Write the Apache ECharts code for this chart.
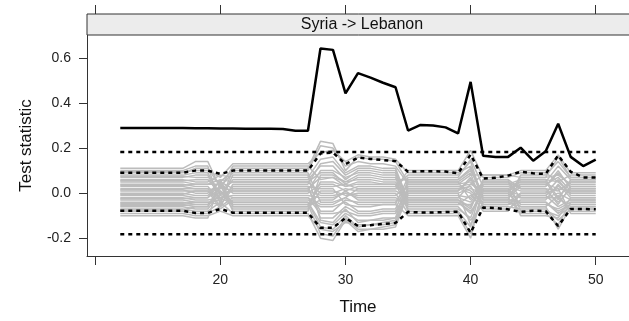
<!DOCTYPE html>
<html>
<head>
<meta charset="utf-8">
<script src="https://cdn.jsdelivr.net/npm/echarts@6/dist/echarts.min.js"></script>
<style>
html, body { margin: 0; padding: 0; background: #fff; }
#chart { width: 629px; height: 321px; }
</style>
</head>
<body>
<div id="chart"></div>
<script>
var stripTitle = 'Syria -> Lebanon';
var years = [12,13,14,15,16,17,18,19,20,21,22,23,24,25,26,27,28,29,30,31,32,33,34,35,36,37,38,39,40,41,42,43,44,45,46,47,48,49,50];
// observed statistic
var observed = [.289,.289,.289,.289,.289,.289,.288,.288,.287,.287,.286,.286,.286,.285,.277,.277,.642,.636,.443,.533,.513,.49,.47,.278,.303,.30,.292,.265,.494,.166,.160,.161,.202,.144,.186,.308,.161,.120,.149];
// pointwise envelope
var envUpper = [.091,.091,.091,.091,.091,.091,.10,.10,.085,.10,.10,.10,.10,.10,.10,.10,.176,.18,.129,.158,.152,.147,.142,.095,.097,.097,.096,.088,.171,.065,.068,.078,.095,.088,.085,.168,.095,.07,.069];
var envLower = [-.078,-.078,-.078,-.078,-.078,-.078,-.088,-.088,-.07,-.087,-.087,-.087,-.087,-.087,-.087,-.087,-.154,-.154,-.11,-.146,-.142,-.137,-.132,-.083,-.086,-.086,-.084,-.082,-.176,-.064,-.066,-.072,-.083,-.078,-.08,-.146,-.07,-.07,-.072];
// global critical value
var critYears = [12, 50];
var critLevel = 0.183;
// permutation curves
var permLines = [
  [.11,.11,.11,.11,.11,.11,.14,.14,.02,.12,.12,.12,.12,.12,.12,.12,.06,.07,.03,.05,.05,.04,.04,-.02,-.02,-.02,-.02,-.02,.04,.01,.01,.01,-.01,-.01,-.01,.03,0,0,0],
  [.10,.10,.10,.10,.10,.10,.12,.12,-.05,.11,.11,.11,.11,.11,.11,.11,.23,.22,.10,.16,.15,.15,.14,.05,.05,.05,.05,.05,-.03,.04,.04,.04,.06,.06,.06,-.02,.05,.05,.05],
  [.095,.095,.095,.095,.095,.095,.10,.10,.07,.13,.13,.13,.13,.13,.13,.13,.18,.19,.14,.17,.16,.16,.15,.09,.09,.09,.09,.09,.12,-.02,-.02,-.02,.03,.03,.03,.10,.02,.02,.02],
  [.09,.09,.09,.09,.09,.09,.11,.11,.03,.09,.09,.09,.09,.09,.09,.09,-.04,-.04,-.02,.02,.02,.02,.02,.10,.10,.10,.10,.10,.19,.07,.07,.07,.09,.09,.09,.05,.08,.08,.08],
  [.08,.08,.08,.08,.08,.08,.09,.09,-.01,.06,.06,.06,.06,.06,.06,.06,.12,.12,.06,.10,.10,.09,.09,-.06,-.06,-.06,-.06,-.06,-.12,-.05,-.05,-.05,-.04,-.04,-.04,-.09,-.05,-.05,-.05],
  [.075,.075,.075,.075,.075,.075,.07,.07,.05,.10,.10,.10,.10,.10,.10,.10,.21,.20,.12,.14,.13,.13,.12,.04,.04,.04,.04,.04,.08,.08,.08,.08,.10,.10,.10,.17,.09,.09,.09],
  [.07,.07,.07,.07,.07,.07,.08,.08,-.03,.03,.03,.03,.03,.03,.03,.03,.02,.02,-.05,-.06,-.06,-.05,-.05,.07,.07,.07,.07,.07,.15,.03,.03,.03,.05,.05,.05,.12,.06,.06,.06],
  [.06,.06,.06,.06,.06,.06,.05,.05,.08,.07,.07,.07,.07,.07,.07,.07,.15,.16,.09,.12,.12,.11,.11,-.03,-.03,-.03,-.03,-.03,-.07,.06,.06,.06,.02,.02,.02,-.05,.03,.03,.03],
  [.055,.055,.055,.055,.055,.055,.06,.06,0,-.02,-.02,-.02,-.02,-.02,-.02,-.02,-.09,-.09,-.08,-.10,-.10,-.09,-.09,.02,.02,.02,.02,.02,.03,-.06,-.06,-.06,-.07,-.07,-.07,-.12,-.07,-.07,-.07],
  [.05,.05,.05,.05,.05,.05,.04,.04,.06,.05,.05,.05,.05,.05,.05,.05,.09,.09,.04,.07,.07,.06,.06,.06,.06,.06,.06,.06,.10,0,0,0,.07,.07,.07,.08,.04,.04,.04],
  [.04,.04,.04,.04,.04,.04,.03,.03,-.04,.08,.08,.08,.08,.08,.08,.08,-.12,-.13,-.07,-.13,-.12,-.12,-.11,-.01,-.01,-.01,-.01,-.01,-.02,.05,.05,.05,-.02,-.02,-.02,0,-.03,-.03,-.03],
  [.035,.035,.035,.035,.035,.035,.04,.04,.04,0,0,0,0,0,0,0,.04,.04,.01,.03,.03,.03,.03,.08,.08,.08,.08,.08,.14,-.03,-.03,-.03,.08,.08,.08,.14,.07,.07,.07],
  [.03,.03,.03,.03,.03,.03,.02,.02,-.06,.04,.04,.04,.04,.04,.04,.04,.13,.14,.08,.11,.11,.10,.10,-.04,-.04,-.04,-.04,-.04,-.09,.02,.02,.02,-.05,-.05,-.05,-.07,-.04,-.04,-.04],
  [.02,.02,.02,.02,.02,.02,.02,.02,.01,-.04,-.04,-.04,-.04,-.04,-.04,-.04,-.15,-.16,-.10,-.15,-.14,-.14,-.13,.01,.01,.01,.01,.01,.06,-.01,-.01,-.01,.04,.04,.04,.02,.01,.01,.01],
  [.015,.015,.015,.015,.015,.015,0,0,.05,.02,.02,.02,.02,.02,.02,.02,.07,.07,.05,.08,.08,.07,.07,-.08,-.08,-.08,-.08,-.08,-.15,.06,.06,.06,-.08,-.08,-.08,-.10,-.06,-.06,-.06],
  [.01,.01,.01,.01,.01,.01,.01,.01,-.02,-.01,-.01,-.01,-.01,-.01,-.01,-.01,-.02,-.02,0,-.01,-.01,-.01,-.01,.03,.03,.03,.03,.03,.01,-.04,-.04,-.04,0,0,0,.06,-.01,-.01,-.01],
  [0,0,0,0,0,0,-.01,-.01,.03,.01,.01,.01,.01,.01,.01,.01,.10,.10,.07,.09,.09,.08,.08,-.05,-.05,-.05,-.05,-.05,-.05,.01,.01,.01,.05,.05,.05,-.03,.06,.06,.06],
  [-.005,-.005,-.005,-.005,-.005,-.005,.01,.01,-.07,-.03,-.03,-.03,-.03,-.03,-.03,-.03,-.06,-.06,-.04,-.08,-.08,-.07,-.07,.05,.05,.05,.05,.05,.09,-.07,-.07,-.07,-.03,-.03,-.03,.04,-.02,-.02,-.02],
  [-.01,-.01,-.01,-.01,-.01,-.01,-.02,-.02,.02,.05,.05,.05,.05,.05,.05,.05,0,0,.02,.01,.01,.01,.01,-.02,-.02,-.02,-.02,-.02,-.04,.03,.03,.03,.01,.01,.01,-.04,.02,.02,.02],
  [-.02,-.02,-.02,-.02,-.02,-.02,-.03,-.03,-.02,-.05,-.05,-.05,-.05,-.05,-.05,-.05,-.18,-.19,-.11,-.16,-.16,-.15,-.14,0,0,0,0,0,.02,0,0,0,-.06,-.06,-.06,-.01,-.08,-.08,-.08],
  [-.025,-.025,-.025,-.025,-.025,-.025,-.02,-.02,.06,-.06,-.06,-.06,-.06,-.06,-.06,-.06,.05,.05,.03,.04,.04,.04,.04,-.07,-.07,-.07,-.07,-.07,-.11,.04,.04,.04,.03,.03,.03,.09,.03,.03,.03],
  [-.03,-.03,-.03,-.03,-.03,-.03,-.04,-.04,-.05,.02,.02,.02,.02,.02,.02,.02,-.08,-.08,-.03,-.04,-.04,-.04,-.04,.04,.04,.04,.04,.04,.05,-.02,-.02,-.02,-.09,-.09,-.09,-.14,-.04,-.04,-.04],
  [-.04,-.04,-.04,-.04,-.04,-.04,-.05,-.05,.01,-.07,-.07,-.07,-.07,-.07,-.07,-.07,.01,.01,-.01,0,0,0,0,-.09,-.09,-.09,-.09,-.09,-.18,.02,.02,.02,.04,.04,.04,.07,.01,.01,.01],
  [-.045,-.045,-.045,-.045,-.045,-.045,-.04,-.04,-.03,.03,.03,.03,.03,.03,.03,.03,-.11,-.11,-.06,-.09,-.09,-.08,-.08,.01,.01,.01,.01,.01,.07,-.05,-.05,-.05,-.01,-.01,-.01,-.06,-.03,-.03,-.03],
  [-.05,-.05,-.05,-.05,-.05,-.05,-.06,-.06,.04,-.08,-.08,-.08,-.08,-.08,-.08,-.08,.08,.08,.05,.06,.06,.05,.05,-.03,-.03,-.03,-.03,-.03,-.06,.05,.05,.05,.02,.02,.02,.01,.05,.05,.05],
  [-.055,-.055,-.055,-.055,-.055,-.055,-.05,-.05,-.01,-.04,-.04,-.04,-.04,-.04,-.04,-.04,-.13,-.14,-.09,-.12,-.12,-.11,-.11,.06,.06,.06,.06,.06,.11,-.03,-.03,-.03,-.04,-.04,-.04,-.08,-.05,-.05,-.05],
  [-.06,-.06,-.06,-.06,-.06,-.06,-.07,-.07,0,.01,.01,.01,.01,.01,.01,.01,-.01,-.01,0,-.02,-.02,-.02,-.02,-.05,-.05,-.05,-.05,-.05,-.01,.01,.01,.01,.06,.06,.06,.05,0,0,0],
  [-.07,-.07,-.07,-.07,-.07,-.07,-.08,-.08,-.04,-.09,-.09,-.09,-.09,-.09,-.09,-.09,-.20,-.21,-.12,-.17,-.16,-.16,-.15,0,0,0,0,0,-.14,-.04,-.04,-.04,-.06,-.06,-.06,-.16,-.06,-.06,-.06],
  [-.075,-.075,-.075,-.075,-.075,-.075,-.06,-.06,.03,-.05,-.05,-.05,-.05,-.05,-.05,-.05,.03,.03,.04,.02,.02,.02,.02,.02,.02,.02,.02,.02,0,-.08,-.08,-.08,0,0,0,.02,-.09,-.09,-.09],
  [-.08,-.08,-.08,-.08,-.08,-.08,-.09,-.09,-.06,-.02,-.02,-.02,-.02,-.02,-.02,-.02,-.05,-.05,-.02,-.05,-.05,-.05,-.05,-.10,-.10,-.10,-.10,-.10,-.20,.02,.02,.02,-.10,-.10,-.10,-.11,-.02,-.02,-.02],
  [-.09,-.09,-.09,-.09,-.09,-.09,-.10,-.10,-.08,-.10,-.10,-.10,-.10,-.10,-.10,-.10,-.16,-.17,-.13,-.14,-.14,-.13,-.12,.03,.03,.03,.03,.03,.04,.08,.08,.08,.07,.07,.07,.16,.07,.07,.07],
  [-.10,-.10,-.10,-.10,-.10,-.10,-.11,-.11,.05,-.06,-.06,-.06,-.06,-.06,-.06,-.06,-.03,-.03,.01,-.03,-.03,-.03,-.03,-.04,-.04,-.04,-.04,-.04,-.08,-.01,-.01,-.01,-.02,-.02,-.02,-.02,-.07,-.07,-.07]
];
var xTicks = [10, 20, 30, 40, 50];
var xLabels = [20, 30, 40, 50];
var yTicks = [-0.2, 0, 0.2, 0.4, 0.6];

var myChart = echarts.init(document.getElementById('chart'), null, { renderer: 'canvas' });

function pairs(xs, ys) {
  return xs.map(function (x, i) { return [x, ys[i]]; });
}

var series = [];
permLines.forEach(function (line) {
  series.push({
    type: 'line',
    data: pairs(years, line),
    showSymbol: false,
    silent: true,
    lineStyle: { color: '#bcbcbc', width: 1.5 },
    z: 1
  });
});
var dashStyle = { color: '#000', width: 2.5, type: [4, 4] };
[envUpper, envLower].forEach(function (env) {
  series.push({ type: 'line', data: pairs(years, env), showSymbol: false, silent: true, lineStyle: dashStyle, z: 3 });
});
[critLevel, -critLevel].forEach(function (lvl) {
  series.push({ type: 'line', data: critYears.map(function (x) { return [x, lvl]; }), showSymbol: false, silent: true, lineStyle: dashStyle, z: 3 });
});
series.push({
  type: 'line',
  data: pairs(years, observed),
  showSymbol: false,
  silent: true,
  lineStyle: { color: '#000', width: 2.5 },
  z: 5
});

var axisColor = '#333';
var option = {
  animation: false,
  backgroundColor: '#fff',
  textStyle: { fontFamily: 'Liberation Sans, Arial, sans-serif' },
  grid: { left: 87, right: -8, top: 35, bottom: 63, show: false },
  xAxis: [{
    type: 'value',
    min: 9.34,
    max: 52.66,
    position: 'bottom',
    splitLine: { show: false },
    axisLine: { show: true, onZero: false, lineStyle: { color: axisColor, width: 1 } },
    axisTick: { show: true, length: 9, inside: false, customValues: xTicks, lineStyle: { color: axisColor } },
    axisLabel: { customValues: xLabels, margin: 17, fontSize: 14, color: '#222' },
    name: 'Time',
    nameLocation: 'middle',
    nameGap: 43,
    nameTextStyle: { fontSize: 17, color: '#111' }
  }, {
    type: 'value',
    min: 9.34,
    max: 52.66,
    position: 'top',
    offset: 21,
    splitLine: { show: false },
    axisLine: { show: false, onZero: false },
    axisTick: { show: true, length: 9, inside: false, customValues: xTicks, lineStyle: { color: axisColor } },
    axisLabel: { show: false }
  }],
  yAxis: {
    type: 'value',
    min: -0.279,
    max: 0.702,
    splitLine: { show: false },
    axisLine: { show: true, onZero: false, lineStyle: { color: axisColor, width: 1 } },
    axisTick: { show: true, length: 8, inside: false, customValues: yTicks, lineStyle: { color: axisColor } },
    axisLabel: {
      customValues: yTicks, margin: 16, fontSize: 14, color: '#222',
      formatter: function (v) { return Number(v).toFixed(1); }
    },
    name: 'Test statistic',
    nameLocation: 'middle',
    nameRotate: 90,
    nameGap: 52,
    nameTextStyle: { fontSize: 17, color: '#111' }
  },
  graphic: [{
    type: 'rect',
    shape: { x: 87, y: 14, width: 560, height: 21 },
    style: { fill: '#ececec', stroke: axisColor, lineWidth: 1 },
    z: 10
  }, {
    type: 'text',
    x: 362, y: 25,
    style: { text: stripTitle, fontSize: 16, fill: '#111', align: 'center', verticalAlign: 'middle', fontFamily: 'Liberation Sans, Arial, sans-serif' },
    z: 11
  }],
  series: series
};
myChart.setOption(option);
window.addEventListener('resize', function () {
  myChart.resize();
});
</script>
</body>
</html>
